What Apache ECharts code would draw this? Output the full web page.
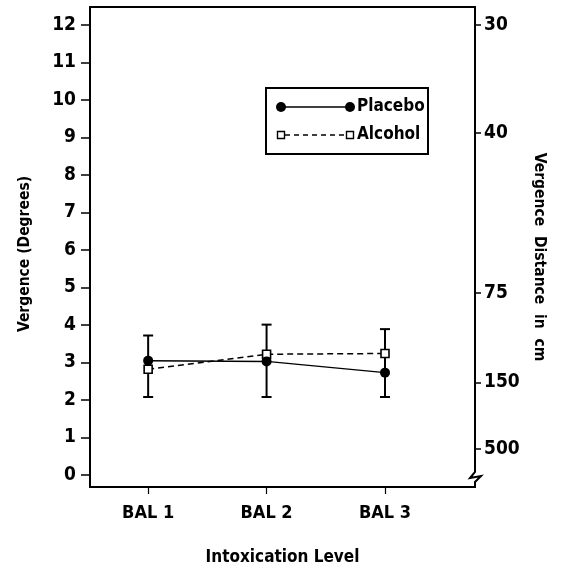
<!DOCTYPE html>
<html><head><meta charset="utf-8">
<script src="https://cdn.jsdelivr.net/npm/echarts@6/dist/echarts.min.js"></script>
<style>html,body{margin:0;padding:0;background:#fff}#c{width:564px;height:569px}</style>
</head><body><div id="c"></div>
<script>
const categories = ['BAL 1', 'BAL 2', 'BAL 3'];
const placebo = [3.05, 3.03, 2.73];
const alcohol = [2.82, 3.22, 3.24];
const errLow = [2.08, 2.08, 2.08];
const errHigh = [3.72, 4.01, 3.89];
const leftTicks = [0, 1, 2, 3, 4, 5, 6, 7, 8, 9, 10, 11, 12];
const rightTickLabels = ['30', '40', '75', '150', '500'];
const rightTickDegrees = [12.0, 9.12, 4.86, 2.47, 0.7];

const FONT = '"DejaVu Sans"';
const FW = 'bold condensed';
const chart = echarts.init(document.getElementById('c'), null, {renderer: 'canvas'});

const xVals = categories.map((c, i) => i + 1);
const errData = categories.map((c, i) => [i + 1, errLow[i], errHigh[i]]);
const txt = (size) => ({color: '#000', fontFamily: FONT, fontWeight: FW, fontSize: size});

const option = {
  animation: false,
  backgroundColor: '#fff',
  grid: {left: 90, right: 89, top: 7, bottom: 82, outerBoundsMode: 'none', containLabel: false, show: true, borderColor: '#000', borderWidth: 2, backgroundColor: 'transparent'},
  xAxis: {
    type: 'value', min: 0.509, max: 3.76,
    splitLine: {show: false},
    axisLine: {show: true, onZero: false, lineStyle: {color: '#000', width: 2}},
    axisTick: {show: true, inside: false, length: 7, customValues: xVals, lineStyle: {color: '#000', width: 1.2}},
    axisLabel: Object.assign({customValues: xVals, formatter: v => categories[Math.round(v) - 1], margin: 17}, txt(18)),
    name: 'Intoxication Level', nameLocation: 'middle', nameGap: 62,
    nameTextStyle: txt(17)
  },
  yAxis: [{
    type: 'value', min: -0.32, max: 12.48, position: 'left',
    splitLine: {show: false},
    axisLine: {show: true, lineStyle: {color: '#000', width: 2}},
    axisTick: {show: true, length: 9, customValues: leftTicks, lineStyle: {color: '#000', width: 1.5}},
    axisLabel: Object.assign({customValues: leftTicks, margin: 14}, txt(19)),
    name: 'Vergence (Degrees)', nameLocation: 'middle', nameRotate: 90, nameGap: 57,
    nameTextStyle: Object.assign({padding: [0, 14, 0, 0]}, txt(15.5))
  }, {
    type: 'value', min: -0.32, max: 12.48, position: 'right',
    splitLine: {show: false},
    axisLine: {show: true, lineStyle: {color: '#000', width: 2}},
    axisTick: {show: true, length: 6, customValues: rightTickDegrees, lineStyle: {color: '#000', width: 1.5}},
    axisLabel: Object.assign({customValues: rightTickDegrees, formatter: v => {
      const i = rightTickDegrees.findIndex(d => Math.abs(d - v) < 1e-6);
      return i >= 0 ? rightTickLabels[i] : '';
    }, margin: 9}, txt(19)),
    name: 'Vergence  Distance  in  cm', nameLocation: 'middle', nameRotate: -90, nameGap: 56,
    nameTextStyle: Object.assign({padding: [0, 0, 0, 20]}, txt(15.5))
  }],
  series: [{
    name: 'SE', type: 'custom', z: 1,
    data: errData,
    renderItem: (params, api) => {
      const x = api.value(0);
      const lo = api.coord([x, api.value(1)]);
      const hi = api.coord([x, api.value(2)]);
      const cw = 5;
      const st = {stroke: '#000', lineWidth: 2};
      return {type: 'group', children: [
        {type: 'line', shape: {x1: lo[0], y1: lo[1], x2: hi[0], y2: hi[1]}, style: st},
        {type: 'line', shape: {x1: lo[0] - cw, y1: lo[1], x2: lo[0] + cw, y2: lo[1]}, style: st},
        {type: 'line', shape: {x1: hi[0] - cw, y1: hi[1], x2: hi[0] + cw, y2: hi[1]}, style: st}
      ]};
    }
  }, {
    name: 'Alcohol', type: 'line', z: 2,
    data: alcohol.map((v, i) => [i + 1, v]),
    symbol: 'rect', symbolSize: 8,
    lineStyle: {color: '#000', width: 1.5, type: [6, 4]},
    itemStyle: {color: '#fff', borderColor: '#000', borderWidth: 1.6}
  }, {
    name: 'Placebo', type: 'line', z: 3,
    data: placebo.map((v, i) => [i + 1, v]),
    symbol: 'circle', symbolSize: 10,
    lineStyle: {color: '#000', width: 1.5},
    itemStyle: {color: '#000', borderColor: '#000', borderWidth: 0}
  }],
  graphic: [
    {type: 'rect', shape: {x: 266, y: 88, width: 162, height: 66}, style: {fill: '#fff', stroke: '#000', lineWidth: 2}, z: 10},
    {type: 'line', shape: {x1: 281, y1: 107, x2: 350, y2: 107}, style: {stroke: '#000', lineWidth: 1.5}, z: 11},
    {type: 'circle', shape: {cx: 281, cy: 107, r: 5}, style: {fill: '#000'}, z: 12},
    {type: 'circle', shape: {cx: 350, cy: 107, r: 5}, style: {fill: '#000'}, z: 12},
    {type: 'text', x: 357, y: 107, style: {text: 'Placebo', fill: '#000', font: FW + ' 17px ' + FONT, verticalAlign: 'middle'}, z: 12},
    {type: 'line', shape: {x1: 285, y1: 135, x2: 346, y2: 135}, style: {stroke: '#000', lineWidth: 1.3, lineDash: [5, 4]}, z: 11},
    {type: 'rect', shape: {x: 277.5, y: 131.5, width: 7, height: 7}, style: {fill: '#fff', stroke: '#000', lineWidth: 1.4}, z: 12},
    {type: 'rect', shape: {x: 346.5, y: 131.5, width: 7, height: 7}, style: {fill: '#fff', stroke: '#000', lineWidth: 1.4}, z: 12},
    {type: 'text', x: 357, y: 135, style: {text: 'Alcohol', fill: '#000', font: FW + ' 17px ' + FONT, verticalAlign: 'middle'}, z: 12},
    {type: 'rect', shape: {x: 468, y: 470, width: 14, height: 15}, style: {fill: '#fff'}, z: 20},
    {type: 'polyline', shape: {points: [[475, 468], [475, 472], [470, 478], [481, 476], [475, 482], [475, 488]]}, style: {stroke: '#000', lineWidth: 2, fill: null, lineJoin: 'miter'}, z: 21}
  ]
};
chart.setOption(option);
</script></body></html>
